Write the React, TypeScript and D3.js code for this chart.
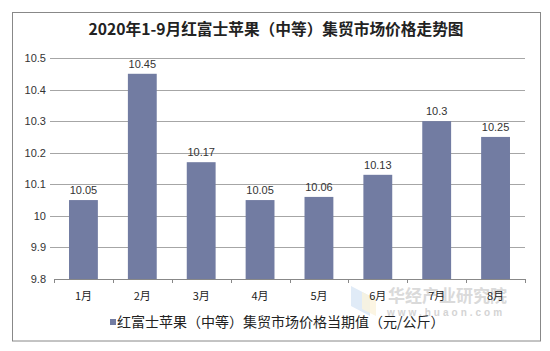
import React from "react";
import * as d3 from "d3";

const categories = ["1月", "2月", "3月", "4月", "5月", "6月", "7月", "8月"];
const values = [10.05, 10.45, 10.17, 10.05, 10.06, 10.13, 10.3, 10.25];
const yTicks = [9.8, 9.9, 10, 10.1, 10.2, 10.3, 10.4, 10.5];
const title = "2020年1-9月红富士苹果（中等）集贸市场价格走势图";
const seriesName = "红富士苹果（中等）集贸市场价格当期值（元/公斤）";

export default function App() {
  const W = 550, H = 351;
  const left = 54, right = 525, top = 58, bottom = 279;
  const x = d3.scaleBand<string>().domain(categories).range([left, right]).paddingInner(0.51).paddingOuter(0.255);
  const xb = d3.scaleBand<string>().domain(categories).range([left, right]);
  const y = d3.scaleLinear().domain([9.8, 10.5]).range([bottom, top]);
  const barColor = "#727ca2";
  const sans = "'Liberation Sans', Arial, 'Noto Sans CJK SC', sans-serif";
  const cjk = "'Noto Sans CJK SC', sans-serif";
  return (
    <svg width={W} height={H} style={{ position: "absolute", left: 0, top: 0 }}>
      <rect x={0} y={0} width={W} height={H} fill="#fff" />
      <rect x={12.5} y={12.5} width={528} height={328.5} fill="#fff" stroke="#888" strokeWidth={1} />
      <text x={276} y={35} textAnchor="middle" fontFamily="'Noto Sans CJK SC', serif" fontWeight="bold" fontSize={15.7} fill="#222">{title}</text>
      {yTicks.map((t) => (
        <g key={t}>
          {t !== 9.8 && <line x1={left - 4} x2={right} y1={Math.round(y(t)) + 0.5} y2={Math.round(y(t)) + 0.5} stroke="#a6a6a6" />}
          <text x={46} y={y(t) + 4} textAnchor="end" fontFamily={sans} fontSize={11} fill="#333">{t}</text>
        </g>
      ))}
      {/* watermark */}
      <g opacity={0.9}>
        <polygon points="351,286 370,296 370,316 351,306" fill="#dde9f7" />
        <polygon points="362,292 376,299 376,316 362,309" fill="#fbf2d8" opacity={0.8} />
        <text x={388} y={302} fontFamily={cjk} fontWeight="bold" fontSize={17} fill="#d6d6d6">华经产业研究院</text>
        <text x={387} y={316} fontFamily={sans} fontWeight="bold" fontSize={10} letterSpacing={3} fill="#d0d0d0">www.huaon.com</text>
      </g>
      {categories.map((c, i) => (
        <g key={c}>
          <rect x={x(c)} y={y(values[i])} width={x.bandwidth()} height={bottom - y(values[i])} fill={barColor} />
          <text x={(x(c) as number) + x.bandwidth() / 2} y={y(values[i]) - 6} textAnchor="middle" fontFamily={sans} fontSize={11} fill="#333">{values[i]}</text>
          <text x={(xb(c) as number) + xb.bandwidth() / 2} y={300} textAnchor="middle" fontFamily={cjk} fontSize={11} fill="#222">{c}</text>
        </g>
      ))}
      <line x1={left} x2={right} y1={bottom + 0.5} y2={bottom + 0.5} stroke="#888" />
      {[...categories.map((c) => xb(c) as number), right].map((v, i) => (
        <line key={i} x1={Math.round(v) + 0.5} x2={Math.round(v) + 0.5} y1={bottom} y2={bottom + 4} stroke="#888" />
      ))}
      <rect x={110} y={319} width={6} height={6} fill={barColor} />
      <text x={117} y={327} fontFamily={cjk} fontSize={14} fill="#222">{seriesName}</text>
    </svg>
  );
}
